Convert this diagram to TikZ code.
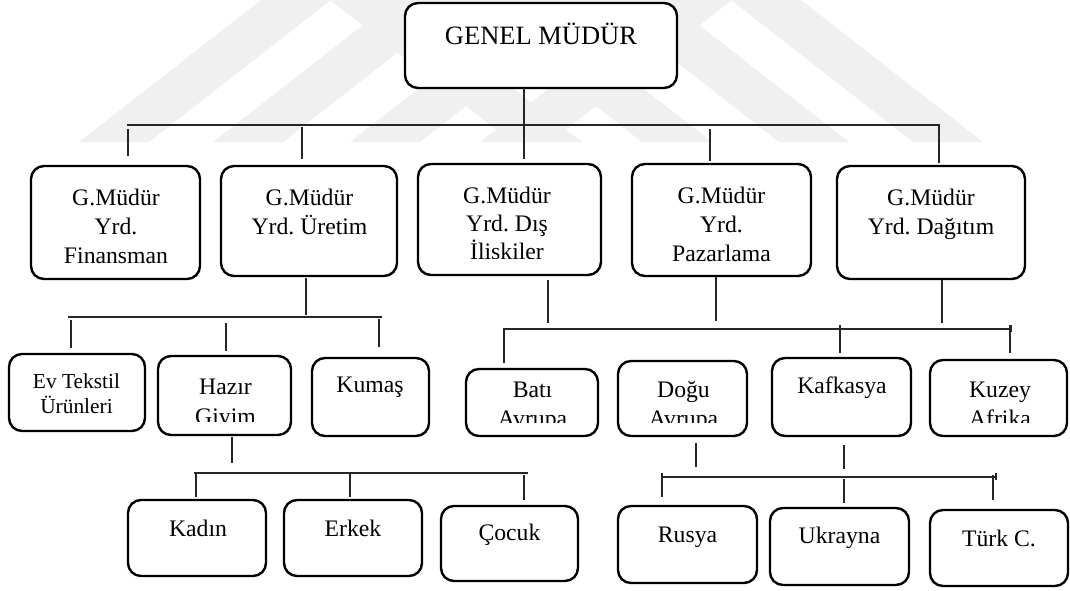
\documentclass[tikz,border=0pt]{standalone}
\usepackage{fontspec}
\setmainfont{Liberation Serif}
\frenchspacing
\begin{document}
\begin{tikzpicture}[x=1pt,y=-1pt,
  box/.style={draw=black, fill=white, line width=2.4pt, rounded corners=13pt,
    inner sep=0pt, outer sep=0pt},
  wire/.style={draw=black!85, line width=1.3pt},
  lbl/.style={inner sep=0pt, anchor=base, font=\fontsize{23.7}{28}\selectfont},
  small/.style={lbl, font=\fontsize{21.4}{26}\selectfont},
  big/.style={lbl, font=\fontsize{26.5}{32}\selectfont},
  wm/.style={fill=black!6, draw=none}]
\useasboundingbox (0,0) rectangle (1070,590);

% faint striped background emblem
\foreach \b in {79,213,350,480}
  \fill[wm] (\b,142) -- (\b+70,142) -- (\b+70+182,0) -- (\b+182,0) -- cycle;
\foreach \b in {983,849,712,582}
  \fill[wm] (\b,142) -- (\b-70,142) -- (\b-70-182,0) -- (\b-182,0) -- cycle;

% ---------- boxes ----------
\node[box, minimum width=272pt, minimum height=85pt] (gm)  at (541,45.5) {};

\node[box, minimum width=169pt, minimum height=113pt] (fin) at (115.5,222.5) {};
\node[box, minimum width=176pt, minimum height=110pt] (ure) at (309,221) {};
\node[box, minimum width=183pt, minimum height=111pt] (dis) at (509.5,219.5) {};
\node[box, minimum width=179pt, minimum height=112pt] (paz) at (721.5,220) {};
\node[box, minimum width=188pt, minimum height=113pt] (dag) at (931,222.5) {};

\node[box, minimum width=136pt, minimum height=77pt] (evt) at (77,392.5) {};
\node[box, minimum width=133pt, minimum height=79pt] (haz) at (224.5,395.5) {};
\node[box, minimum width=117pt, minimum height=78pt] (kum) at (370.5,397) {};
\node[box, minimum width=132pt, minimum height=67pt] (bat) at (532,402.5) {};
\node[box, minimum width=129pt, minimum height=75pt] (dog) at (682.5,398.5) {};
\node[box, minimum width=139pt, minimum height=78pt] (kaf) at (841.5,397) {};
\node[box, minimum width=137pt, minimum height=76pt] (kuz) at (998.5,398) {};

\node[box, minimum width=138pt, minimum height=76pt] (kad) at (197,538) {};
\node[box, minimum width=138pt, minimum height=76pt] (erk) at (353,538) {};
\node[box, minimum width=137pt, minimum height=75pt] (coc) at (509.5,543.5) {};
\node[box, minimum width=139pt, minimum height=77pt] (rus) at (687.5,544.5) {};
\node[box, minimum width=139pt, minimum height=77pt] (ukr) at (839.5,546.5) {};
\node[box, minimum width=138pt, minimum height=76pt] (tur) at (999,548) {};

% ---------- labels ----------
\node[big] (gm-1) at (541,44) {GENEL MÜDÜR};

\node[lbl] (fin-1) at (116,205) {G.Müdür};
\node[lbl] (fin-2) at (116,234) {Yrd.};
\node[lbl] (fin-3) at (116,263) {Finansman};

\node[lbl] (ure-1) at (309.5,205) {G.Müdür};
\node[lbl] (ure-2) at (309.5,234) {Yrd. Üretim};

\node[lbl] (dis-1) at (507,203) {G.Müdür};
\node[lbl] (dis-2) at (507,231) {Yrd. Dış};
\begin{scope}
  \clip (420,235) rectangle (600,258);
  \node[lbl] (dis-3) at (507,259) {İliskiler};
\end{scope}

\node[lbl] (paz-1) at (721.5,203) {G.Müdür};
\node[lbl] (paz-2) at (721.5,232) {Yrd.};
\node[lbl] (paz-3) at (721.5,261) {Pazarlama};

\node[lbl] (dag-1) at (931,205) {G.Müdür};
\node[lbl] (dag-2) at (931,234) {Yrd. Dağıtım};

\node[small] (evt-1) at (76.5,388) {Ev Tekstil};
\node[small] (evt-2) at (76.5,413) {Ürünleri};

\node[lbl] (haz-1) at (225.5,394) {Hazır};
\begin{scope}
  \clip (160,400) rectangle (290,421);
  \node[lbl] (haz-2) at (225.5,424) {Giyim};
\end{scope}

\node[lbl] (kum-1) at (370,392) {Kumaş};

\node[lbl] (bat-1) at (532.5,397) {Batı};
\node[lbl] (dog-1) at (683.5,397) {Doğu};
\node[lbl] (kaf-1) at (842,393) {Kafkasya};
\node[lbl] (kuz-1) at (1000,397) {Kuzey};
\begin{scope}
  \clip (460,400) rectangle (1060,422);
  \node[lbl] (bat-2) at (532.5,426) {Avrupa};
  \node[lbl] (dog-2) at (683.5,426) {Avrupa};
  \node[lbl] (kuz-2) at (1000,426) {Afrika};
\end{scope}

\node[lbl] (kad-1) at (198,536) {Kadın};
\node[lbl] (erk-1) at (353,536) {Erkek};
\node[lbl] (coc-1) at (509.5,540) {Çocuk};
\node[lbl] (rus-1) at (687.5,542) {Rusya};
\node[lbl] (ukr-1) at (839.5,543) {Ukrayna};
\node[lbl] (tur-1) at (999,546) {Türk C.};

% ---------- connector end points ----------
% top level
\coordinate (gm-d)   at (524,88);
\coordinate (dis-u)  at (524,159);
\coordinate (b1-l)   at (127,125);
\coordinate (b1-r)   at (940,125);
\coordinate (fin-ua) at (128,129);  \coordinate (fin-u) at (128,156);
\coordinate (ure-ua) at (302,127);  \coordinate (ure-u) at (302,159);
\coordinate (paz-ua) at (710,129);  \coordinate (paz-u) at (710,161);
\coordinate (dag-ua) at (939,125);  \coordinate (dag-u) at (939,163);
% production branch
\coordinate (ure-d)  at (306,278);  \coordinate (ure-db) at (306,315);
\coordinate (b2-l)   at (68,317);   \coordinate (b2-r)   at (382,317);
\coordinate (evt-ua) at (71,320);   \coordinate (evt-u)  at (71,348);
\coordinate (haz-ua) at (226,323);  \coordinate (haz-u)  at (226,351);
\coordinate (kum-ua) at (379,319);  \coordinate (kum-u)  at (379,347);
% regional branch
\coordinate (dis-d)  at (548,280);  \coordinate (dis-db) at (548,323);
\coordinate (paz-d)  at (716,277);  \coordinate (paz-db) at (716,321);
\coordinate (dag-d)  at (942,280);  \coordinate (dag-db) at (942,323);
\coordinate (b3-l)   at (504,329);  \coordinate (b3-r)   at (1011,329);
\coordinate (bat-u)  at (504,363);
\coordinate (kaf-ua) at (840,325);  \coordinate (kaf-u)  at (840,353);
\coordinate (kuz-ua) at (1010,325); \coordinate (kuz-u)  at (1010,353);
% ready-wear branch
\coordinate (haz-d)  at (232,437);  \coordinate (haz-db) at (232,463);
\coordinate (b4-l)   at (194,473);  \coordinate (b4-r)   at (528,473);
\coordinate (kad-ua) at (196,473);  \coordinate (kad-u)  at (196,497);
\coordinate (erk-ua) at (350,473);  \coordinate (erk-u)  at (350,497);
\coordinate (coc-ua) at (524,475);  \coordinate (coc-u)  at (524,500);
% eastern branch
\coordinate (dog-d)  at (696,443);  \coordinate (dog-db) at (696,467);
\coordinate (kaf-d)  at (844,445);  \coordinate (kaf-db) at (844,469);
\coordinate (b5-l)   at (662,477);  \coordinate (b5-r)   at (996,477);
\coordinate (rus-ua) at (662,473);  \coordinate (rus-u)  at (662,497);
\coordinate (ukr-ua) at (844,479);  \coordinate (ukr-u)  at (844,503);
\coordinate (tur-ua) at (993,475);  \coordinate (tur-u)  at (993,500);
\coordinate (b5-ta)  at (996,473);  \coordinate (b5-tb)  at (996,480);
\coordinate (b3-ta)  at (1011,325); \coordinate (b3-tb)  at (1011,332);

% ---------- connectors ----------
\draw[wire] (gm-d) -- (dis-u);
\draw[wire] (b1-l) -- (b1-r);
\draw[wire] (fin-ua) -- (fin-u);
\draw[wire] (ure-ua) -- (ure-u);
\draw[wire] (paz-ua) -- (paz-u);
\draw[wire] (dag-ua) -- (dag-u);

\draw[wire] (ure-d) -- (ure-db);
\draw[wire] (b2-l) -- (b2-r);
\draw[wire] (evt-ua) -- (evt-u);
\draw[wire] (haz-ua) -- (haz-u);
\draw[wire] (kum-ua) -- (kum-u);

\draw[wire] (dis-d) -- (dis-db);
\draw[wire] (paz-d) -- (paz-db);
\draw[wire] (dag-d) -- (dag-db);
\draw[wire] (bat-u) -- (b3-l) -- (b3-r);
\draw[wire] (b3-ta) -- (b3-tb);
\draw[wire] (kaf-ua) -- (kaf-u);
\draw[wire] (kuz-ua) -- (kuz-u);

\draw[wire] (haz-d) -- (haz-db);
\draw[wire] (b4-l) -- (b4-r);
\draw[wire] (kad-ua) -- (kad-u);
\draw[wire] (erk-ua) -- (erk-u);
\draw[wire] (coc-ua) -- (coc-u);

\draw[wire] (dog-d) -- (dog-db);
\draw[wire] (kaf-d) -- (kaf-db);
\draw[wire] (b5-l) -- (b5-r);
\draw[wire] (b5-ta) -- (b5-tb);
\draw[wire] (rus-ua) -- (rus-u);
\draw[wire] (ukr-ua) -- (ukr-u);
\draw[wire] (tur-ua) -- (tur-u);
\end{tikzpicture}
\end{document}
